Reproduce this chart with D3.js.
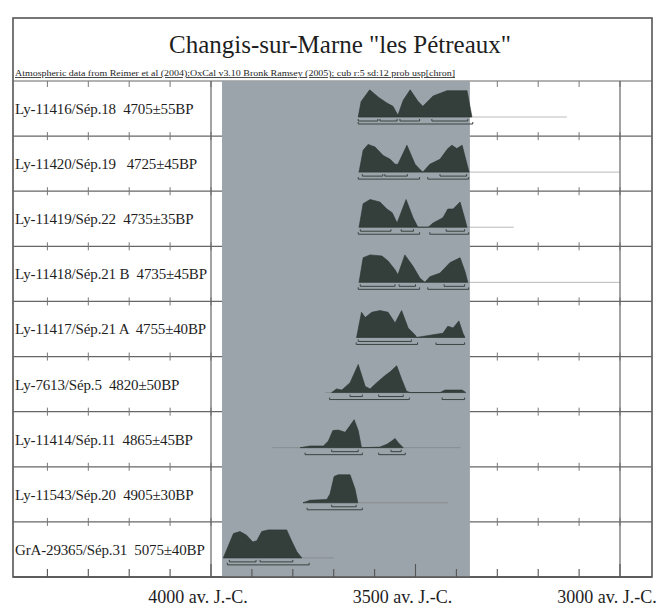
<!DOCTYPE html>
<html>
<head>
<meta charset="utf-8">
<script src="https://cdn.jsdelivr.net/npm/d3@7"></script>
<style>
  body { margin: 0; background: #fff; }
  svg text { font-family: "Liberation Serif", "Times New Roman", serif; fill: #1e1e1e; white-space: pre; }
</style>
</head>
<body>
<svg id="chart" width="662" height="608"></svg>
<script>
'use strict';

/* data */

var labels = [
  'Ly-11416/Sép.18  4705±55BP',
  'Ly-11420/Sép.19   4725±45BP',
  'Ly-11419/Sép.22  4735±35BP',
  'Ly-11418/Sép.21 B  4735±45BP',
  'Ly-11417/Sép.21 A  4755±40BP',
  'Ly-7613/Sép.5  4820±50BP',
  'Ly-11414/Sép.11  4865±45BP',
  'Ly-11543/Sép.20  4905±30BP',
  'GrA-29365/Sép.31  5075±40BP'
];

// [year BC, relative probability]
var row1 = [[3640,0],[3633,0.55],[3612,0.97],[3590,0.7],[3570,0.5],[3555,0.38],[3543,0.06],[3530,0.6],[3513,0.97],[3494,0.56],[3482,0.38],[3457,0.75],[3423,0.94],[3374,0.94],[3362,0]];
var row2 = [[3638,0],[3628,0.78],[3616,0.99],[3599,0.9],[3579,0.59],[3562,0.46],[3550,0.28],[3543,0.28],[3521,0.96],[3501,0.28],[3489,0.09],[3482,0],[3465,0.28],[3440,0.46],[3421,0.84],[3411,0.96],[3399,0.84],[3386,0.96],[3374,0.28],[3369,0]];
var row3 = [[3638,0],[3628,0.84],[3611,0.99],[3587,0.9],[3570,0.65],[3557,0.52],[3545,0.15],[3523,0.99],[3506,0.34],[3494,0],[3469,0],[3457,0.15],[3433,0.34],[3421,0.65],[3408,0.65],[3391,0.9],[3379,0.28],[3374,0]];
var row4 = [[3638,0],[3628,0.88],[3611,0.98],[3582,0.94],[3567,0.76],[3550,0.45],[3543,0.27],[3526,0.98],[3506,0.57],[3489,0.15],[3477,0],[3465,0.2],[3440,0.33],[3416,0.7],[3399,0.82],[3391,0.88],[3379,0.39],[3372,0]];
var row5 = [[3644,0],[3632,0.9],[3623,0.71],[3607,0.9],[3587,0.96],[3567,0.9],[3550,0.52],[3534,0.96],[3518,0.34],[3501,0.09],[3497,0],[3460,0.09],[3433,0.15],[3421,0.4],[3408,0.34],[3394,0.59],[3384,0.15],[3379,0]];
var row6 = [[3705,0],[3693,0.13],[3680,0.09],[3660,0.35],[3640,1],[3623,0.22],[3611,0.13],[3595,0.35],[3575,0.6],[3562,0.74],[3546,0.96],[3534,0.48],[3522,0.05],[3513,0],[3440,0],[3428,0.09],[3386,0.09],[3377,0]];
var row7 = [[3782,0],[3758,0.06],[3725,0.06],[3713,0.24],[3702,0.61],[3689,0.63],[3672,0.55],[3660,0.79],[3650,1],[3640,0.61],[3632,0],[3587,0.02],[3570,0.12],[3558,0.24],[3550,0.33],[3542,0.18],[3530,0]];
var row8 = [[3775,0],[3758,0.09],[3717,0.12],[3709,0.31],[3699,0.94],[3689,1],[3660,1],[3648,0.5],[3641,0]];
var row9 = [[3970,0],[3958,0.42],[3945,0.87],[3929,0.94],[3913,0.81],[3898,0.57],[3888,0.61],[3876,0.94],[3860,1],[3815,1],[3803,0.61],[3790,0.22],[3778,0]];
var dists = [row1, row2, row3, row4, row5, row6, row7, row8, row9];

// 68.2% and 95.4% ranges
var ranges68 = [
  [[3640,3592],[3587,3545],[3538,3490],[3460,3372]],
  [[3630,3580],[3575,3520],[3440,3375]],
  [[3635,3560],[3535,3505],[3425,3380]],
  [[3635,3550],[3540,3500],[3430,3380]],
  [[3640,3510]],
  [[3660,3630],[3590,3530]],
  [[3705,3640],[3560,3535]],
  [[3705,3645]],
  [[3955,3890],[3880,3800]]
];
var ranges95 = [
  [[3640,3360]],
  [[3640,3490],[3470,3370]],
  [[3640,3490],[3465,3370]],
  [[3640,3490],[3470,3370]],
  [[3645,3495],[3450,3380]],
  [[3710,3515],[3435,3380]],
  [[3770,3630],[3590,3525]],
  [[3765,3630]],
  [[3960,3760]]
];

// faint low-probability tails
var tails = [
  [3640,3130],[3640,3000],[3640,3260],[3640,3000],[3645,3380],
  [3720,3380],[3850,3390],[3775,3420],[3970,3700]
];

var shade = [3973, 3367];
var majorTicks = [4000, 3500, 3000];
var minorTicks = d3.range(4400, 2900, -100);
var axisSuffix = ' av. J.-C.';

var title = 'Changis-sur-Marne "les Pétreaux"';
var subtitle = 'Atmospheric data from Reimer et al (2004);OxCal v3.10 Bronk Ramsey (2005); cub r:5 sd:12 prob usp[chron]';

/* layout */

var frame = {left: 13, right: 652, top: 18, bottom: 577};
var plotTop = 81;
var peakH = 28;

var svg = d3.select('#chart');

var x = d3.scaleLinear().domain([4000, 3000]).range([211, 620]);
var y = d3.scaleBand().domain(d3.range(labels.length)).range([plotTop, frame.bottom]);

// outer frame
svg.append('rect')
  .attr('x', frame.left).attr('y', frame.top)
  .attr('width', frame.right - frame.left).attr('height', frame.bottom - frame.top)
  .attr('fill', '#fff').attr('stroke', '#555').attr('stroke-width', 1.6);

svg.append('text')
  .attr('x', 340).attr('y', 53)
  .attr('text-anchor', 'middle')
  .style('font-size', '25px')
  .text(title);

svg.append('text')
  .attr('x', 15).attr('y', 76)
  .attr('textLength', 440).attr('lengthAdjust', 'spacingAndGlyphs')
  .style('font-size', '8px')
  .style('text-decoration', 'underline')
  .text(subtitle);

// row separators with little ticks
var seps = d3.range(1, labels.length).map(function (i) { return y(i); });
svg.append('g').selectAll('line').data([plotTop].concat(seps)).enter().append('line')
  .attr('x1', frame.left).attr('x2', frame.right)
  .attr('y1', function (d) { return d; }).attr('y2', function (d) { return d; })
  .attr('stroke', '#666').attr('stroke-width', 1.2);

seps.forEach(function (sy) {
  svg.append('g').selectAll('line').data(minorTicks).enter().append('line')
    .attr('x1', function (d) { return x(d); }).attr('x2', function (d) { return x(d); })
    .attr('y1', sy - 4).attr('y2', sy + 4)
    .attr('stroke', '#777').attr('stroke-width', 1);
});
svg.append('g').selectAll('line').data(minorTicks).enter().append('line')
  .attr('x1', function (d) { return x(d); }).attr('x2', function (d) { return x(d); })
  .attr('y1', plotTop).attr('y2', plotTop + 6)
  .attr('stroke', '#777').attr('stroke-width', 1);

// vertical lines at 4000 and 3000
svg.append('g').selectAll('line').data([4000, 3000]).enter().append('line')
  .attr('x1', function (d) { return x(d); }).attr('x2', function (d) { return x(d); })
  .attr('y1', plotTop).attr('y2', frame.bottom)
  .attr('stroke', '#666').attr('stroke-width', 1.2);

// shaded span
svg.append('rect')
  .attr('x', x(shade[0])).attr('y', plotTop)
  .attr('width', x(shade[1]) - x(shade[0])).attr('height', frame.bottom - plotTop)
  .attr('fill', '#9ba4ab');

// bottom axis ticks
svg.append('g').selectAll('line').data(minorTicks).enter().append('line')
  .attr('x1', function (d) { return x(d); }).attr('x2', function (d) { return x(d); })
  .attr('y1', frame.bottom)
  .attr('y2', function (d) { return frame.bottom - (d % 500 === 0 ? 13 : 8); })
  .attr('stroke', '#555').attr('stroke-width', 1.1);

svg.append('line')
  .attr('x1', frame.left).attr('x2', frame.right)
  .attr('y1', frame.bottom).attr('y2', frame.bottom)
  .attr('stroke', '#555').attr('stroke-width', 1.6);

svg.append('g').selectAll('text').data(majorTicks).enter().append('text')
  .attr('x', function (d) { return x(d) - 13; })
  .attr('y', 603)
  .attr('text-anchor', 'middle')
  .style('font-size', '18px')
  .text(function (d) { return d + axisSuffix; });

// labels
svg.append('g').selectAll('text').data(labels).enter().append('text')
  .attr('x', 15)
  .attr('y', function (d, i) { return y(i) + 33; })
  .style('font-size', '15px')
  .style('letter-spacing', '-0.15px')
  .text(function (d) { return d; });

// distributions
var area = d3.area()
  .x(function (d) { return x(d[0]); })
  .y1(function (d) { return -d[1] * peakH; })
  .y0(0);

dists.forEach(function (dist, i) {
  var base = y(i) + 36;
  var g = svg.append('g').attr('transform', 'translate(0,' + base + ')');

  g.append('line')
    .attr('x1', x(tails[i][0])).attr('x2', x(tails[i][1]))
    .attr('y1', 0).attr('y2', 0)
    .attr('stroke', '#777').attr('stroke-opacity', 0.5).attr('stroke-width', 1);

  g.append('path')
    .attr('d', area(dist))
    .attr('fill', '#343f3b').attr('stroke', '#2a3230').attr('stroke-width', 0.6);

  [[ranges68[i], 4], [ranges95[i], 7]].forEach(function (r) {
    r[0].forEach(function (seg) {
      g.append('path')
        .attr('d', 'M' + x(seg[0]) + ',' + (r[1] - 2) + 'V' + r[1] + 'H' + x(seg[1]) + 'V' + (r[1] - 2))
        .attr('fill', 'none').attr('stroke', '#3a4441').attr('stroke-width', 1);
    });
  });
});
</script>
</body>
</html>
